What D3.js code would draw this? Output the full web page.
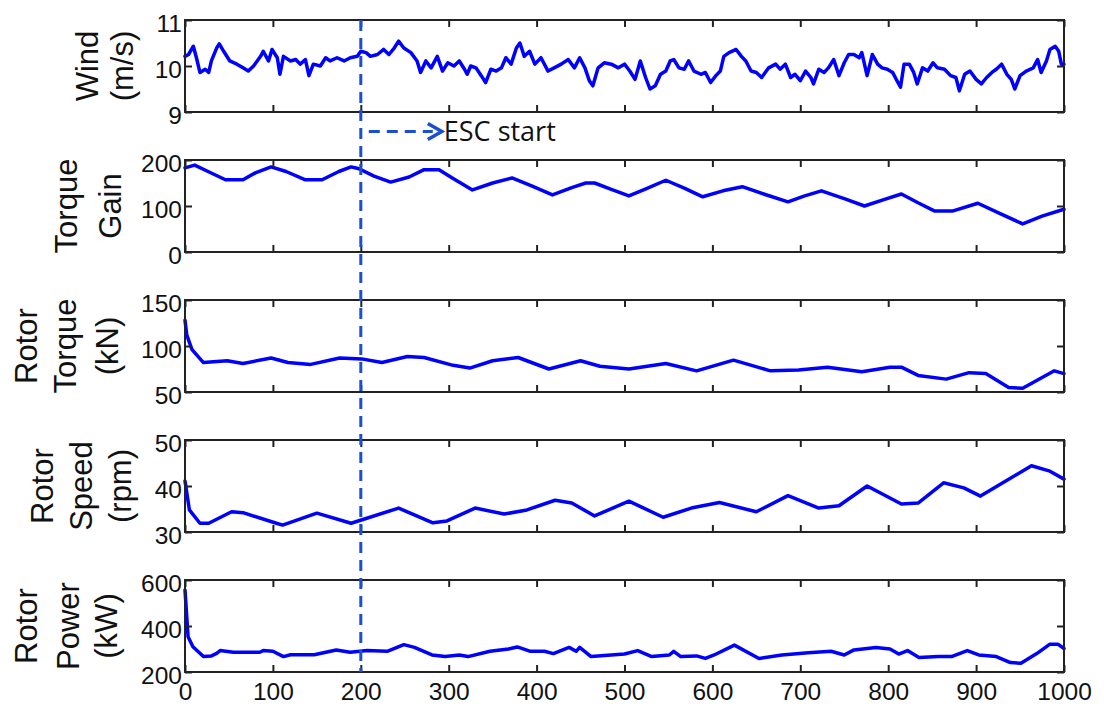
<!DOCTYPE html>
<html>
<head>
<meta charset="utf-8">
<script src="https://cdn.jsdelivr.net/npm/d3@7"></script>
<style>
body { margin: 0; background: #fff; }
svg { display: block; }
</style>
</head>
<body>
<svg id="chart" width="1104" height="708"></svg>
<script>
////////////////////////////////////////////////////////////
// DATA
////////////////////////////////////////////////////////////
var xTicks = [0, 100, 200, 300, 400, 500, 600, 700, 800, 900, 1000];
var escStart = 200;
var escLabel = "ESC start";

var windX = [0, 4, 9.5, 13, 17, 23, 27, 30, 36, 39, 44, 51, 59, 66, 72, 78, 86, 89, 95, 99,
  105, 108, 112, 120, 126, 131, 137, 141, 146, 154, 160, 165, 173, 181, 188, 196, 200, 206, 211, 219,
  226, 232, 238, 243, 249, 257, 264, 268, 274, 280, 287, 293, 299, 306, 312, 318, 321,
  325, 331, 337, 342, 348, 354, 360, 365, 371, 377, 381, 386, 392, 398, 405, 413, 420, 428, 436,
  443, 449, 455, 460, 464, 470, 477, 485, 493, 500, 506, 512, 518, 524, 529, 535, 541, 547, 552,
  556, 562, 568, 573, 579, 587, 592, 598, 604, 609, 613, 619, 627, 633, 638, 644, 650,
  656, 664, 672, 677, 683, 689, 694, 700, 706, 712, 715, 721, 727, 732, 738, 744, 750, 755, 761,
  767, 770, 776, 782, 788, 793, 799, 805, 810, 814, 818, 824, 829, 833, 839, 845, 851, 856, 864,
  871, 877, 881, 887, 893, 900, 906, 912, 918, 923, 929, 935, 940, 944, 950, 957, 965, 970, 974,
  980, 984, 990, 994, 997, 1000];
var windY = [10.21, 10.25, 10.43, 10.18, 9.86, 9.93, 9.86, 10.11, 10.39, 10.48, 10.32, 10.11, 10.04, 9.96, 9.89, 10.0, 10.21, 10.32, 10.11, 10.36,
  10.18, 9.82, 10.21, 10.11, 10.14, 10.04, 10.14, 9.79, 10.04, 10.0, 10.18, 10.11, 10.18, 10.11, 10.18, 10.21, 10.32, 10.29, 10.21, 10.25,
  10.36, 10.25, 10.39, 10.54, 10.39, 10.29, 10.11, 9.86, 10.11, 9.96, 10.21, 9.89, 10.07, 10.0, 10.11, 9.93, 9.82,
  10.0, 9.96, 9.79, 9.64, 9.93, 9.89, 9.96, 10.18, 10.04, 10.39, 10.5, 10.21, 10.32, 10.04, 10.18, 9.89, 9.96, 10.04, 10.14,
  9.96, 10.18, 9.96, 9.68, 9.57, 9.96, 10.07, 10.04, 9.96, 10.04, 9.89, 9.71, 10.11, 9.75, 9.5, 9.57, 9.82, 9.89, 10.11,
  10.14, 9.96, 9.93, 10.11, 9.89, 9.82, 9.86, 9.64, 9.79, 9.89, 10.21, 10.29, 10.36, 10.21, 10.11, 9.89, 9.86,
  9.75, 9.96, 10.04, 9.93, 10.04, 9.75, 9.82, 9.68, 9.89, 9.75, 9.61, 9.93, 9.86, 9.96, 10.14, 9.79, 10.07, 10.25, 10.25,
  10.18, 10.29, 9.79, 10.25, 10.04, 9.96, 9.93, 9.86, 9.68, 9.54, 10.04, 10.04, 9.86, 9.61, 9.96, 9.89, 10.07, 9.96, 9.93,
  9.79, 9.75, 9.46, 9.82, 9.89, 9.71, 9.61, 9.75, 9.86, 9.93, 10.04, 9.82, 9.71, 9.5, 9.79, 9.89, 9.96, 10.14, 9.86,
  10.11, 10.36, 10.43, 10.32, 10.04, 10.04];

var gainX = [0, 11, 25, 46, 66, 80, 98, 115, 137, 156, 175, 189, 198, 215, 234, 255, 272, 289, 305, 327,
  350, 372, 395, 418, 440, 456, 466, 485, 505, 525, 547, 568, 589, 612, 634, 660, 686, 705, 724, 750,
  773, 795, 815, 835, 853, 873, 902, 928, 953, 975, 1000];
var gainY = [183, 189, 176, 157, 157, 172, 185, 175, 157, 157, 175, 185, 181, 165, 152, 163, 179, 179, 160, 135,
  150, 161, 143, 124, 140, 150, 150, 136, 122, 138, 156, 139, 120, 133, 142, 125, 109, 122, 133, 116,
  100, 114, 126, 106, 89, 89, 106, 83, 61, 78, 93];

var torqueX = [0, 2, 5, 8, 21, 48, 66, 98, 117, 143, 176, 201, 224, 253, 272, 305, 324, 350, 379, 414,
  450, 472, 505, 547, 582, 624, 666, 698, 731, 770, 802, 815, 834, 866, 892, 911, 937, 953, 989, 1000];
var torqueY = [128, 112, 104, 96, 82, 84, 81, 87, 82, 80, 87, 86, 82, 88.6, 87.5, 79, 76, 84, 87.5, 75,
  84, 78, 75, 81, 73, 84.6, 73, 74, 77, 72, 77, 77, 68, 64, 71, 70, 55, 54, 73, 70];

var speedX = [0, 5, 17, 27, 53, 66, 104, 111, 150, 189, 243, 282, 298, 330, 363, 389, 421, 440, 466, 505,
  544, 576, 608, 650, 686, 721, 744, 776, 815, 834, 863, 886, 905, 963, 983, 1000];
var speedY = [41.1, 34.8, 31.9, 31.9, 34.4, 34.2, 31.9, 31.5, 34.1, 31.9, 35.2, 32, 32.4, 35.2, 33.9, 34.8, 36.9, 36.3, 33.5, 36.7,
  33.2, 35.2, 36.4, 34.4, 37.9, 35.2, 35.7, 40, 36.1, 36.3, 40.7, 39.6, 37.8, 44.4, 43.3, 41.5];

var powerX = [0, 3.5, 9, 21, 30, 36, 40, 55, 85, 89, 100, 112, 120, 147, 172, 188, 207, 230, 249, 261,
  281, 296, 312, 322, 347, 368, 378, 393, 409, 419, 437, 445, 449, 462, 500, 515, 531, 551, 556, 564,
  582, 592, 602, 625, 653, 679, 709, 735, 750, 761, 786, 802, 812, 822, 835, 857, 872, 890, 903, 923,
  939, 951, 969, 984, 993, 1000];
var powerY = [556, 353, 310, 267, 270, 281, 293, 286, 286, 293, 290, 267, 275, 275, 296, 286, 293, 290, 319, 307,
  274, 267, 274, 267, 290, 300, 309, 290, 290, 280, 307, 290, 307, 267, 278, 293, 267, 274, 290, 267,
  270, 259, 274, 317, 259, 274, 284, 290, 274, 296, 307, 300, 278, 293, 263, 267, 267, 293, 274, 267,
  241, 238, 280, 321, 321, 302];

var yLabels = [["Wind", "(m/s)"], ["Torque", "Gain"], ["Rotor", "Torque", "(kN)"],
  ["Rotor", "Speed", "(rpm)"], ["Rotor", "Power", "(kW)"]];
var yTicks = [[9, 10, 11], [0, 100, 200], [50, 100, 150], [30, 40, 50], [200, 400, 600]];

////////////////////////////////////////////////////////////
// LAYOUT
////////////////////////////////////////////////////////////
var left = 185, right = 1064;
var panelTop = 20, panelStep = 140, panelH = 92;
// baseline x of each rotated label line, per panel
var labelPos = [[98, 133], [77, 121], [37, 76, 118], [53, 92, 131], [37, 79, 117]];
var lineColor = "#0000ff";
var dashColor = "#1a4fd2";
var fmt = d3.format("d");

var series = [
  {x: windX, y: windY},
  {x: gainX, y: gainY},
  {x: torqueX, y: torqueY},
  {x: speedX, y: speedY},
  {x: powerX, y: powerY}
];

var svg = d3.select("#chart");
var x = d3.scaleLinear().domain([0, 1000]).range([left, right]);

for (var i = 0; i < series.length; i++) {
    drawPanel(i);
}
drawEscMarker();

function drawPanel(i) {
    var top = panelTop + panelStep * i;
    var bottom = top + panelH;
    var ticks = yTicks[i];
    var y = d3.scaleLinear().domain([ticks[0], ticks[ticks.length - 1]]).range([bottom, top]);

    // data line
    var pts = series[i].x.map(function(d, k) { return [d, series[i].y[k]]; });
    var line = d3.line()
        .x(function(d) { return x(d[0]); })
        .y(function(d) { return y(d[1]); });
    svg.append("path")
        .datum(pts)
        .attr("fill", "none")
        .attr("stroke", lineColor)
        .attr("stroke-width", 3.5)
        .attr("stroke-linejoin", "round")
        .attr("stroke-linecap", "round")
        .attr("d", line);

    // ticks pointing inward on all four sides
    var g = svg.append("g").attr("class", "axes");
    g.append("g")
        .attr("class", "yleft")
        .attr("transform", "translate(" + left + ",0)")
        .call(d3.axisLeft(y).tickValues(ticks).tickFormat(fmt)
            .tickSizeInner(-7).tickSizeOuter(0).tickPadding(3));
    g.append("g")
        .attr("transform", "translate(" + right + ",0)")
        .call(d3.axisRight(y).tickValues(ticks).tickSizeInner(-7).tickSizeOuter(0).tickFormat(""));
    g.append("g")
        .attr("transform", "translate(0," + top + ")")
        .call(d3.axisTop(x).tickValues(xTicks).tickSizeInner(-7).tickSizeOuter(0).tickFormat(""));
    var bx = d3.axisBottom(x).tickValues(xTicks).tickSizeInner(-7).tickSizeOuter(0).tickPadding(11);
    bx.tickFormat(i < series.length - 1 ? "" : fmt);
    g.append("g")
        .attr("transform", "translate(0," + bottom + ")")
        .call(bx);

    g.selectAll(".domain").remove();
    g.selectAll(".tick line").attr("stroke", "#222").attr("stroke-width", 2);
    g.selectAll(".tick text")
        .attr("font-family", "'Liberation Sans', Arial, sans-serif")
        .attr("font-size", 24.5)
        .attr("fill", "#111");
    g.selectAll(".yleft .tick text").attr("dy", "0.46em");

    // box
    svg.append("rect")
        .attr("x", left)
        .attr("y", top)
        .attr("width", right - left)
        .attr("height", bottom - top)
        .attr("fill", "none")
        .attr("stroke", "#222")
        .attr("stroke-width", 2);

    // y label, one rotated text per line
    var cy = (top + bottom) / 2;
    yLabels[i].forEach(function(txt, k) {
        svg.append("text")
            .attr("transform", "translate(" + labelPos[i][k] + "," + cy + ") rotate(-90)")
            .attr("text-anchor", "middle")
            .attr("font-family", "'Liberation Sans', Arial, sans-serif")
            .attr("font-size", 31)
            .attr("fill", "#111")
            .text(txt);
    });
}

function drawEscMarker() {
    var top = panelTop;
    var bottom = panelTop + panelStep * (series.length - 1) + panelH;
    svg.append("line")
        .attr("x1", x(escStart)).attr("x2", x(escStart))
        .attr("y1", top).attr("y2", bottom)
        .attr("stroke", dashColor)
        .attr("stroke-width", 3)
        .attr("stroke-dasharray", "11,7");

    var ay = 131.5;
    var x0 = x(escStart) + 8;
    svg.append("line")
        .attr("x1", x0).attr("x2", x0 + 64)
        .attr("y1", ay).attr("y2", ay)
        .attr("stroke", dashColor)
        .attr("stroke-width", 3)
        .attr("stroke-dasharray", "11,7");
    svg.append("path")
        .attr("d", "M" + (x0 + 59) + "," + (ay - 8) + "L" + (x0 + 73) + "," + ay + "L" + (x0 + 59) + "," + (ay + 8))
        .attr("fill", "none")
        .attr("stroke", dashColor)
        .attr("stroke-width", 3.5);
    svg.append("text")
        .attr("x", x0 + 75)
        .attr("y", ay + 9)
        .attr("font-family", "'Open Sans', sans-serif")
        .attr("font-size", 27)
        .attr("fill", "#111")
        .text(escLabel);
}
</script>
</body>
</html>
